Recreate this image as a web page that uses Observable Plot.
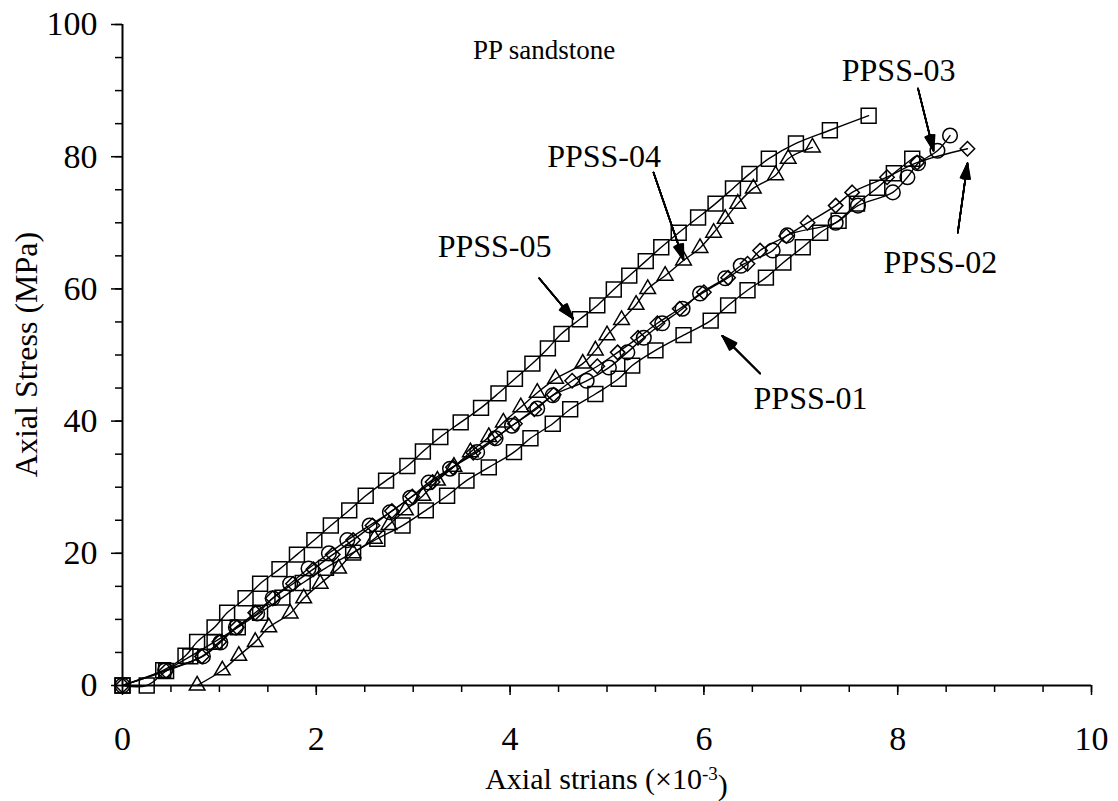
<!DOCTYPE html>
<html>
<head>
<meta charset="utf-8">
<script src="https://cdn.jsdelivr.net/npm/d3@7"></script>
<script src="https://cdn.jsdelivr.net/npm/@observablehq/plot@0.6"></script>
<style>
  html, body { margin: 0; padding: 0; background: #fff; }
  #chart svg { display: block; }
  #chart svg, #chart svg g, #chart svg text, #chart svg tspan {
    font-family: "Liberation Serif", "Times New Roman", "DejaVu Serif", serif !important;
  }
</style>
</head>
<body>
<div id="chart"></div>
<script>
// ---------- data (strain ×10^-3, stress MPa) ----------
const ppss01Strain = [0, 0.25, 0.45, 0.70, 0.95, 1.19, 1.42, 1.65, 1.86, 2.10, 2.38, 2.63, 2.89, 3.13, 3.35, 3.55, 3.78, 4.04, 4.21, 4.44, 4.62, 4.88, 5.12, 5.26, 5.50, 5.79, 6.07, 6.25, 6.45, 6.64, 6.82, 7.02, 7.20, 7.39, 7.58, 7.79, 7.96, 8.15];
const ppss01Stress = [0, 0, 2.2, 4.4, 6.6, 8.8, 11.0, 13.3, 15.5, 17.8, 20.1, 22.2, 24.2, 26.5, 28.7, 31.0, 33.0, 35.3, 37.4, 39.6, 41.8, 44.1, 46.4, 48.4, 50.7, 53.0, 55.2, 57.5, 59.8, 61.7, 64.0, 66.3, 68.5, 70.3, 72.9, 75.3, 77.5, 79.7];

const ppss02Strain = [0, 0.45, 0.82, 1.00, 1.18, 1.37, 1.55, 1.76, 1.97, 2.17, 2.38, 2.58, 2.78, 2.99, 3.20, 3.41, 3.62, 3.84, 4.05, 4.25, 4.45, 4.64, 4.90, 5.11, 5.32, 5.52, 5.75, 6.00, 6.25, 6.45, 6.58, 6.85, 7.07, 7.36, 7.53, 7.89, 8.20, 8.72];
const ppss02Stress = [0, 2.2, 4.4, 6.6, 8.8, 11.0, 13.2, 15.4, 17.6, 19.8, 22.0, 24.2, 26.4, 28.6, 30.8, 33.0, 35.2, 37.4, 39.6, 41.8, 44.0, 46.1, 48.3, 50.4, 52.6, 54.8, 57.0, 59.5, 61.7, 63.8, 65.8, 68.0, 70.0, 72.6, 74.6, 76.9, 79.1, 81.2];

const ppss03Strain = [0, 0.44, 0.83, 1.01, 1.17, 1.39, 1.55, 1.73, 1.92, 2.13, 2.32, 2.55, 2.76, 2.97, 3.16, 3.38, 3.66, 3.85, 4.02, 4.28, 4.44, 4.79, 5.02, 5.21, 5.38, 5.57, 5.78, 5.96, 6.22, 6.38, 6.71, 6.86, 7.36, 7.59, 7.95, 8.10, 8.21, 8.41, 8.54];
const ppss03Stress = [0, 2.3, 4.4, 6.5, 8.8, 10.9, 13.2, 15.4, 17.7, 20.0, 22.0, 24.2, 26.2, 28.4, 30.7, 32.8, 35.3, 37.4, 39.3, 41.9, 43.9, 46.1, 48.1, 50.4, 52.6, 54.8, 57.0, 59.3, 61.6, 63.5, 65.8, 68.1, 70.0, 72.6, 74.6, 76.9, 79.0, 80.9, 83.2];

const ppss04Strain = [0.77, 1.03, 1.20, 1.37, 1.51, 1.73, 1.87, 2.04, 2.23, 2.38, 2.60, 2.75, 2.92, 3.10, 3.25, 3.42, 3.59, 3.78, 3.93, 4.11, 4.28, 4.47, 4.75, 4.88, 5.00, 5.15, 5.30, 5.42, 5.60, 5.79, 5.96, 6.10, 6.22, 6.35, 6.51, 6.74, 6.87, 7.12];
const ppss04Stress = [0, 2.3, 4.5, 6.6, 8.8, 10.9, 13.2, 15.4, 17.7, 20.0, 22.2, 24.3, 26.5, 28.7, 31.0, 33.1, 35.3, 37.6, 39.8, 42.1, 44.3, 46.4, 48.7, 50.7, 53.0, 55.3, 57.6, 60.0, 62.0, 64.3, 66.2, 68.5, 70.6, 72.9, 75.2, 77.2, 79.7, 81.4];

const ppss05Strain = [0, 0.42, 0.65, 0.77, 0.95, 1.08, 1.27, 1.42, 1.62, 1.80, 1.98, 2.15, 2.34, 2.51, 2.72, 2.94, 3.10, 3.28, 3.49, 3.70, 3.88, 4.05, 4.23, 4.39, 4.53, 4.72, 4.90, 5.07, 5.23, 5.40, 5.56, 5.74, 5.94, 6.12, 6.30, 6.47, 6.67, 6.95, 7.30, 7.70];
const ppss05Stress = [0, 2.3, 4.5, 6.6, 8.8, 11.0, 13.2, 15.4, 17.6, 19.8, 22.0, 24.2, 26.5, 28.7, 31.0, 33.2, 35.4, 37.6, 39.8, 42.0, 44.2, 46.4, 48.7, 51.0, 53.2, 55.4, 57.5, 59.9, 62.0, 64.2, 66.3, 68.5, 70.8, 72.9, 75.2, 77.4, 79.7, 82.0, 84.0, 86.2];

// annotation labels and arrows (data coordinates)
const annLabels = ["PPSS-01", "PPSS-02", "PPSS-03", "PPSS-04", "PPSS-05"];
const annTextX  = [7.10, 8.44, 8.01, 4.97, 3.84];
const annTextY  = [43.4, 64.0, 93.0, 80.0, 66.4];
const arrowFromX = [6.58, 8.62, 8.21, 5.48, 4.30];
const arrowFromY = [47.2, 68.5, 90.3, 77.6, 61.6];
const arrowToX   = [6.19, 8.72, 8.37, 5.79, 4.65];
const arrowToY   = [52.9, 79.0, 80.9, 64.4, 55.5];

const titleText = "PP sandstone";
const titleX = 4.35, titleY = 96.1;

const xMajorTicks = [0, 2, 4, 6, 8, 10];
const yMajorTicks = [0, 20, 40, 60, 80, 100];

// ---------- build tables ----------
const toRows = (name, xs, ys) => xs.map((x, i) => ({series: name, strain: x, stress: ys[i]}));
const d01 = toRows("PPSS-01", ppss01Strain, ppss01Stress);
const d02 = toRows("PPSS-02", ppss02Strain, ppss02Stress);
const d03 = toRows("PPSS-03", ppss03Strain, ppss03Stress);
const d04 = toRows("PPSS-04", ppss04Strain, ppss04Stress);
const d05 = toRows("PPSS-05", ppss05Strain, ppss05Stress);
const ann = annLabels.map((l, i) => ({label: l, tx: annTextX[i], ty: annTextY[i],
  x1: arrowFromX[i], y1: arrowFromY[i], x2: arrowToX[i], y2: arrowToY[i]}));

const FONT_STACK = '"Liberation Serif", "Times New Roman", "DejaVu Serif", serif';
const ink = "#000";
const lineOpts = {x: "strain", y: "stress", curve: "catmull-rom", stroke: ink, strokeWidth: 1.4};
const dotOpts = {x: "strain", y: "stress", stroke: ink, strokeWidth: 1.5, fill: "none"};

const arrowMarks = [6, 12, 18, 24, 30, 36].map(a =>
  Plot.arrow(ann, {x1: "x1", y1: "y1", x2: "x2", y2: "y2", stroke: ink, strokeWidth: 1.6,
    headLength: 15, headAngle: a}));

const chart = Plot.plot({
  width: 1118,
  height: 801,
  marginLeft: 122,
  marginRight: 27,
  marginTop: 24,
  marginBottom: 116,
  style: {background: "#fff", color: ink},
  x: {domain: [0, 10]},
  y: {domain: [0, 100]},
  marks: [
    // minor ticks
    Plot.axisX(d3.range(0, 10.01, 0.5), {tickSize: 7, text: null, stroke: ink, strokeWidth: 1.5, label: null}),
    Plot.axisY(d3.range(0, 100.1, 5), {tickSize: 7, text: null, stroke: ink, strokeWidth: 1.5, label: null}),
    // major ticks + labels
    Plot.axisX(xMajorTicks, {tickSize: 10, tickPadding: 30, fontSize: 34, stroke: ink, strokeWidth: 1.5, label: null, fill: ink}),
    Plot.axisY(yMajorTicks, {tickSize: 11, tickPadding: 14, fontSize: 34, stroke: ink, strokeWidth: 1.5, label: null, fill: ink}),
    Plot.ruleX([0], {stroke: ink, strokeWidth: 2}),
    Plot.ruleY([0], {stroke: ink, strokeWidth: 2}),
    // curves
    Plot.line(d01, lineOpts),
    Plot.line(d02, lineOpts),
    Plot.line(d03, lineOpts),
    Plot.line(d04, lineOpts),
    Plot.line(d05, lineOpts),
    // markers
    Plot.dot(d01, {...dotOpts, symbol: "square", r: 8.4}),
    Plot.dot(d05, {...dotOpts, symbol: "square", r: 8.4}),
    Plot.dot(d02, {...dotOpts, symbol: "diamond2", r: 6.5}),
    Plot.dot(d03, {...dotOpts, symbol: "circle", r: 7.3}),
    Plot.dot(d04, {...dotOpts, symbol: "triangle", r: 5.8}),
    // annotations
    ...arrowMarks,
    Plot.text(ann, {x: "tx", y: "ty", text: "label", fontSize: 32, fill: ink}),
    Plot.text([titleText], {x: titleX, y: titleY, text: d => d, fontSize: 27, fill: ink})
  ]
});

// axis titles (real text, with superscript)
const svg = d3.select(chart);
const xs = chart.scale("x"), ys = chart.scale("y");
const xMid = (xs.range[0] + xs.range[1]) / 2;
const yMid = (ys.range[0] + ys.range[1]) / 2;
const xt = svg.append("text")
  .attr("x", xMid).attr("y", 789)
  .attr("text-anchor", "middle")
  .attr("font-size", 30).attr("fill", ink);
xt.append("tspan").text("Axial strians (×10");
xt.append("tspan").attr("dy", "-0.5em").attr("font-size", 19).text("-3");
xt.append("tspan").attr("dy", "0.5em").text(")");
svg.append("text")
  .attr("transform", `translate(37,${yMid}) rotate(-90)`)
  .attr("text-anchor", "middle")
  .attr("font-size", 32).attr("fill", ink)
  .text("Axial Stress (MPa)");

// force the serif face on every text node (inline style)
svg.style("font-family", FONT_STACK);
svg.selectAll("g, text, tspan").style("font-family", FONT_STACK);

document.getElementById("chart").appendChild(chart);
</script>
</body>
</html>
